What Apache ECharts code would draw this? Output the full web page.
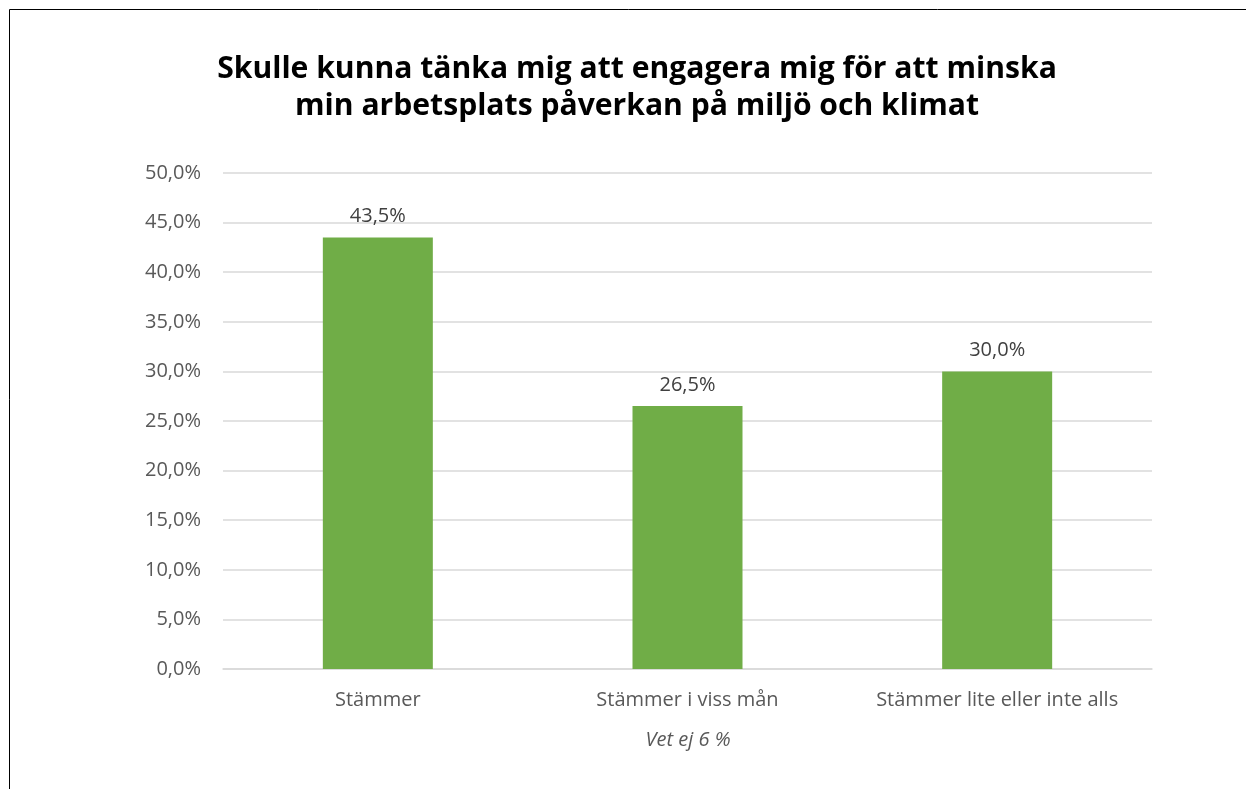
<!DOCTYPE html>
<html><head><meta charset="utf-8">
<script src="https://cdn.jsdelivr.net/npm/echarts@6/dist/echarts.min.js"></script>
<style>html,body{margin:0;padding:0;background:#fff}#c{width:1246px;height:789px}</style>
</head><body><div id="c"></div>
<script>
const titleLines = ["Skulle kunna tänka mig att engagera mig för att minska", "min arbetsplats påverkan på miljö och klimat"];
const categories = ["Stämmer", "Stämmer i viss mån", "Stämmer lite eller inte alls"];
const values = [43.5, 26.5, 30.0];
const note = "Vet ej 6 %";
const fmt = v => v.toFixed(1).replace('.', ',') + '%';

// size the title font so that the first line spans about 840px, as in the reference
const cv = document.createElement('canvas').getContext('2d');
cv.font = 'bold 100px "Open Sans"';
const titleSize = Math.min(40, 840 / cv.measureText(titleLines[0]).width * 100);

const chart = echarts.init(document.getElementById('c'));
chart.setOption({
  backgroundColor: '#fff',
  animation: false,
  title: {
    text: titleLines.join('\n'), left: 632, top: 46, textAlign: 'center',
    textStyle: {fontFamily: 'Open Sans', fontWeight: 'bold', fontSize: titleSize, color: '#000', lineHeight: 37}
  },
  grid: {left: 223, right: 94, top: 173, bottom: 120, containLabel: false},
  xAxis: {
    type: 'category', data: categories,
    axisLine: {lineStyle: {color: '#d9d9d9', width: 1.5}},
    axisTick: {show: false},
    axisLabel: {color: '#595959', fontFamily: 'Open Sans', fontSize: 20, margin: 21, interval: 0, hideOverlap: false}
  },
  yAxis: {
    type: 'value', min: 0, max: 50, interval: 5,
    axisLine: {show: false}, axisTick: {show: false},
    splitLine: {lineStyle: {color: '#d9d9d9', width: 1.5}},
    axisLabel: {color: '#595959', fontFamily: 'Open Sans', fontSize: 20, margin: 22, formatter: v => fmt(v)}
  },
  series: [{
    type: 'bar', data: values, barWidth: 110,
    itemStyle: {color: '#70ad47'},
    label: {show: true, position: 'top', distance: 11, color: '#404040', fontFamily: 'Open Sans', fontSize: 20, formatter: p => fmt(p.value)}
  }],
  graphic: [
    {type: 'text', x: 688, y: 740, style: {text: note, align: 'center', verticalAlign: 'middle', fill: '#595959', font: 'italic 20px "Open Sans"'}},
    {type: 'polyline', shape: {points: [[9.5, 800], [9.5, 9.5], [1260, 9.5]]}, style: {stroke: '#000', lineWidth: 1, fill: null}}
  ]
});
</script></body></html>
